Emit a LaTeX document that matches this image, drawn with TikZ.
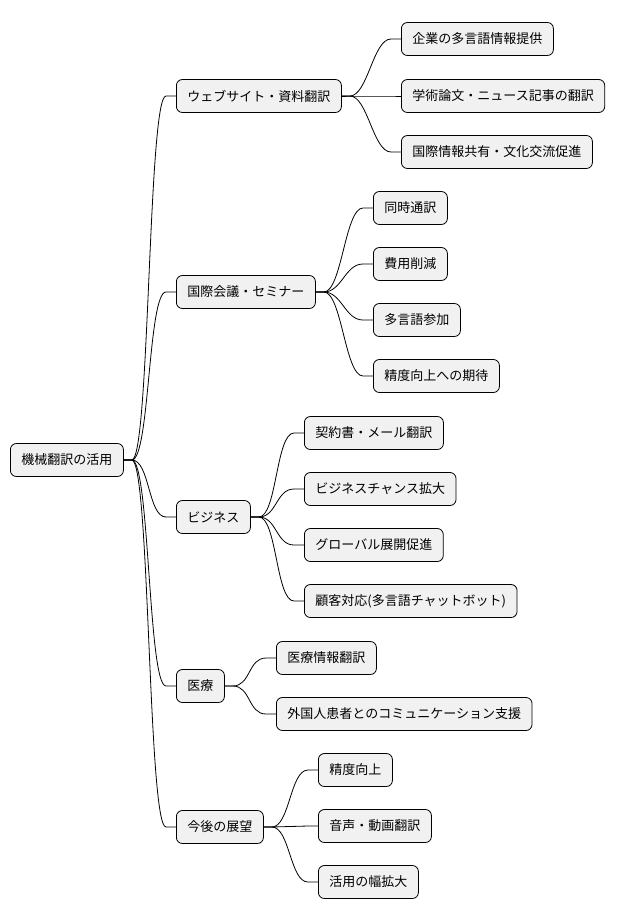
\documentclass[tikz,border=0pt]{standalone}
\usepackage{fontspec}
\setmainfont{Noto Sans CJK JP}
\begin{document}
\begin{tikzpicture}[x=1pt,y=-1pt,
  box/.style={draw=black,line width=0.8pt,fill={rgb,255:red,241;green,241;blue,241},rounded corners=6pt,anchor=west,minimum height=33pt,inner xsep=11pt,font=\fontsize{13}{15}\selectfont},
  con/.style={draw=black,line width=0.8pt}]
\useasboundingbox (0,0) rectangle (628,921);
\node[box] (r) at (10,460) {機械翻訳の活用};
\node[box] (a) at (176,96) {ウェブサイト・資料翻訳};
\node[box] (b) at (176,292) {国際会議・セミナー};
\node[box] (c) at (176,517) {ビジネス};
\node[box] (d) at (176,686) {医療};
\node[box] (e) at (176,827) {今後の展望};
\node[box] (a1) at (401,39) {企業の多言語情報提供};
\node[box] (a2) at (401,96) {学術論文・ニュース記事の翻訳};
\node[box] (a3) at (401,152) {国際情報共有・文化交流促進};
\node[box] (b1) at (373,208) {同時通訳};
\node[box] (b2) at (373,264) {費用削減};
\node[box] (b3) at (373,320) {多言語参加};
\node[box] (b4) at (373,376) {精度向上への期待};
\node[box] (c1) at (304,433) {契約書・メール翻訳};
\node[box] (c2) at (304,489) {ビジネスチャンス拡大};
\node[box] (c3) at (304,545) {グローバル展開促進};
\node[box] (c4) at (304,601) {顧客対応(多言語チャットボット)};
\node[box] (d1) at (276,658) {医療情報翻訳};
\node[box] (d2) at (276,714) {外国人患者とのコミュニケーション支援};
\node[box] (e1) at (318,770) {精度向上};
\node[box] (e2) at (318,826) {音声・動画翻訳};
\node[box] (e3) at (318,882) {活用の幅拡大};
\foreach \p/\c in {r/a,r/b,r/c,r/d,r/e,a/a1,a/a2,a/a3,b/b1,b/b2,b/b3,b/b4,c/c1,c/c2,c/c3,c/c4,d/d1,d/d2,e/e1,e/e2,e/e3}
  \draw[con] (\p.east) -- ++(8,0) .. controls +(18,0) and +(-18,0) .. ([xshift=-10pt]\c.west) -- (\c.west);
\end{tikzpicture}
\end{document}
